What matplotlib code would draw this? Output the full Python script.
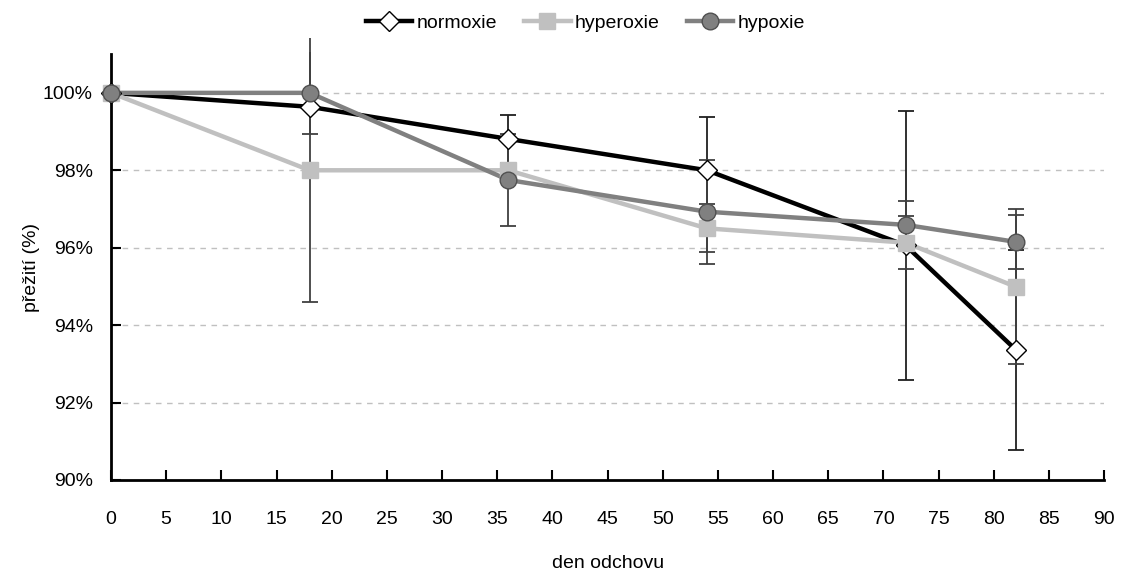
import matplotlib
matplotlib.use("Agg")
import matplotlib.pyplot as plt
from matplotlib.lines import Line2D
from matplotlib.ticker import FuncFormatter, MultipleLocator

plt.rcParams['font.family'] = ['Liberation Sans', 'DejaVu Sans']

days = [0, 18, 36, 54, 72, 82]
series_names = ["normoxie", "hyperoxie", "hypoxie"]
normoxie = [100.0, 99.64, 98.81, 98.0, 96.06, 93.36]
normoxie_err = [0.0, 0.0, 0.62, 1.37, 3.48, 2.58]
hyperoxie = [100.0, 98.0, 98.0, 96.5, 96.13, 94.99]
hyperoxie_err = [0.0, 3.41, 0.15, 0.62, 0.68, 2.0]
hypoxie = [100.0, 100.0, 97.75, 96.93, 96.59, 96.15]
hypoxie_err = [0.0, 1.06, 1.2, 1.34, 0.62, 0.7]

values = [normoxie, hyperoxie, hypoxie]
errors = [normoxie_err, hyperoxie_err, hypoxie_err]
line_colors = ["#000000", "#c0c0c0", "#808080"]
markers = ["D", "s", "o"]
marker_face = ["#ffffff", "#c0c0c0", "#808080"]
marker_edge = ["#000000", "#c0c0c0", "#505050"]
marker_sizes = [10, 11, 12]
err_colors = ["#202020", "#404040", "#404040"]

fig = plt.figure(figsize=(11.21, 5.76), dpi=100)
ax = fig.add_axes([0.099, 0.1667, 0.886, 0.7393])

for i in range(3):
    eb = ax.errorbar(days, values[i], yerr=errors[i], fmt='none', ecolor=err_colors[i],
                     elinewidth=1.3, capsize=6, capthick=1.3, zorder=2)
    for ln in eb.lines[2]:
        ln.set_clip_on(False)
    for cap in eb.lines[1]:
        cap.set_clip_on(True)
for i in range(3):
    ax.plot(days, values[i], color=line_colors[i], lw=3.2, zorder=3 + i * 0.1,
            solid_capstyle='butt')
for i in range(3):
    ax.plot(days, values[i], ls='none', marker=markers[i], ms=marker_sizes[i],
            mfc=marker_face[i], mec=marker_edge[i], mew=1.0, zorder=5 + i * 0.1,
            clip_on=False)

ax.set_xlim(0, 90)
ax.set_ylim(90, 101)
ax.xaxis.set_major_locator(MultipleLocator(5))
ax.set_yticks([90, 92, 94, 96, 98, 100])
ax.yaxis.set_major_formatter(FuncFormatter(lambda v, p: f"{v:.0f}%"))
ax.grid(axis='y', color='#c0c0c0', ls=(0, (4, 4)), lw=1.0)
ax.set_axisbelow(True)
for s in ['top', 'right']:
    ax.spines[s].set_visible(False)
for s in ['left', 'bottom']:
    ax.spines[s].set_linewidth(2.0)
    ax.spines[s].set_color('black')
ax.tick_params(axis='x', direction='in', length=7, width=1.5, pad=22, labelsize=14)
ax.tick_params(axis='y', direction='in', length=7, width=1.5, pad=13, labelsize=14)

ax.set_xlabel("den odchovu", fontsize=14, labelpad=20)
ax.set_ylabel("přežití (%)", fontsize=14, labelpad=2)

handles = [Line2D([0], [0], color=line_colors[i], lw=3.2, marker=markers[i],
                  ms=marker_sizes[i], mfc=marker_face[i], mec=marker_edge[i], mew=1.0)
           for i in range(3)]
fig.legend(handles, series_names, loc='upper center', bbox_to_anchor=(0.522, 1.005),
           ncol=3, frameon=False, fontsize=14, handlelength=2.4, handletextpad=0.2,
           columnspacing=1.4)

fig.savefig("out.png", dpi=100)
